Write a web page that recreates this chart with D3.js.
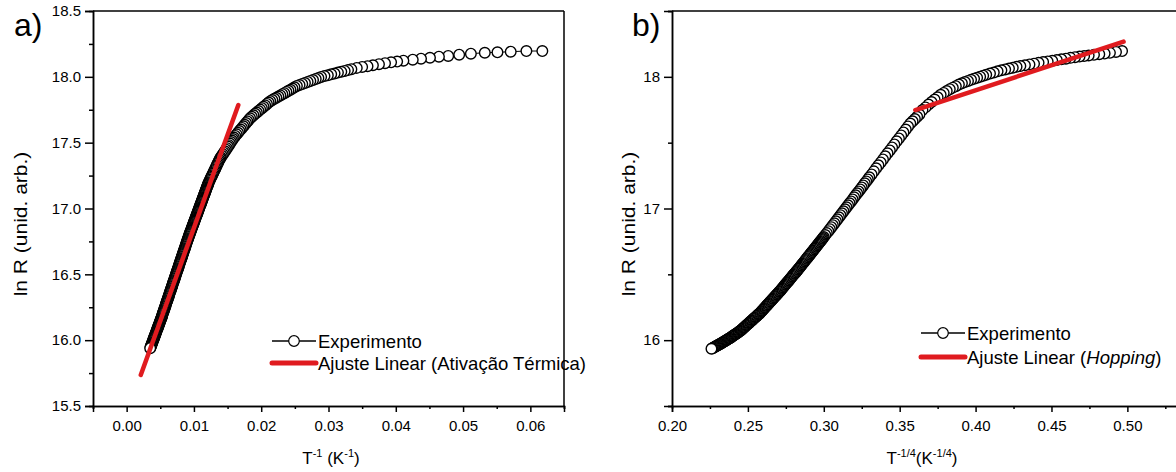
<!DOCTYPE html>
<html>
<head>
<meta charset="utf-8">
<script src="https://cdn.jsdelivr.net/npm/d3@7"></script>
<style>
  body { margin: 0; background: #fff; }
  svg { display: block; font-family: "Liberation Sans", Arial, sans-serif; }
  .axis path, .axis line { stroke: #000; stroke-width: 1.5; }
  .axis text { font-size: 15px; fill: #000; }
</style>
</head>
<body>
<svg id="chart" width="1176" height="472"></svg>
<script>
// panel a) : ln R vs T^-1
var invT = [
  0.0035,0.00355,0.0036,0.00365,0.0037,0.00375,0.0038,0.00385,0.0039,0.00395,0.0040,0.00405,0.0041,0.00415,0.0042,0.00425,
  0.0043,0.00435,0.0044,0.00445,0.0045,0.00455,0.0046,0.00465,0.0047,0.00475,0.0048,0.00485,0.0049,0.00495,0.0050,0.00505,
  0.0051,0.00515,0.0052,0.00525,0.0053,0.00535,0.0054,0.00545,0.0055,0.00555,0.0056,0.00565,0.0057,0.00575,0.0058,0.00585,
  0.0059,0.00595,0.0060,0.00605,0.0061,0.00615,0.0062,0.00625,0.0063,0.00635,0.0064,0.00645,0.0065,0.00655,0.0066,0.00665,
  0.0067,0.00675,0.0068,0.00685,0.0069,0.00695,0.0070,0.00705,0.0071,0.00715,0.0072,0.00725,0.0073,0.00735,0.0074,0.00745,
  0.0075,0.00755,0.0076,0.00765,0.0077,0.00775,0.0078,0.00785,0.0079,0.00795,0.0080,0.00805,0.0081,0.00815,0.0082,0.00825,
  0.0083,0.00835,0.0084,0.00845,0.0085,0.00855,0.0086,0.00865,0.0087,0.00875,0.0088,0.00885,0.0089,0.00895,0.0090,0.00905,
  0.0091,0.00915,0.0092,0.00925,0.0093,0.00935,0.0094,0.00945,0.0095,0.00955,0.0096,0.00965,0.0097,0.00975,0.0098,0.00985,
  0.0099,0.00995,0.0100,0.01005,0.0101,0.01015,0.0102,0.01025,0.0103,0.01035,0.0104,0.01045,0.0105,0.01055,0.0106,0.01065,
  0.0107,0.01075,0.0108,0.01085,0.0109,0.01095,0.0110,0.01105,0.0111,0.01115,0.0112,0.01125,0.0113,0.01135,0.0114,0.01145,
  0.0115,0.01155,0.0116,0.01165,0.0117,0.01175,0.0118,0.01185,0.0119,0.01195,0.0120,0.01205,0.0121,0.01215,0.0122,
  0.0123,0.0124,0.0125,0.0126,0.0127,0.0128,0.0129,0.0130,0.0131,0.0132,0.0133,0.0134,0.0135,0.0136,0.0137,0.0138,0.0139,0.0140,
  0.01415,0.0143,0.01445,0.0146,0.01475,0.0149,0.01505,0.0152,0.01535,0.0155,0.01565,0.0158,0.01595,
  0.01615,0.01635,0.01655,0.01675,0.01695,0.01715,0.01735,0.01755,0.01775,0.01795,0.01815,0.01835,
  0.0186,0.01885,0.0191,0.01935,0.0196,0.01985,0.0201,0.02035,0.0206,0.02085,0.0211,0.02135,
  0.02165,0.02195,0.02225,0.02255,0.02285,0.02315,0.02345,0.02375,0.02405,0.02435,0.02465,0.02495,
  0.0253,0.0257,0.0261,0.0265,0.0269,0.0273,0.0277,0.0281,0.0285,0.0289,
  0.0294,0.0299,0.0304,0.0309,0.0314,0.0319,0.0324,0.0329,0.0334,
  0.0342,0.0350,0.0358,0.0366,0.0375,0.0384,0.0393,0.0402,
  0.04113,0.04252,0.04375,0.04508,0.04641,0.04779,0.04942,0.05116,0.05323,0.05511,0.05708,0.05941,0.06178
];
var lnRa = [
  15.939,15.946,15.953,15.960,15.967,15.973,15.980,15.987,15.994,16.001,16.008,16.015,16.022,16.029,16.036,16.042,
  16.049,16.056,16.063,16.070,16.077,16.084,16.091,16.098,16.105,16.111,16.118,16.125,16.132,16.139,16.146,16.153,
  16.160,16.167,16.175,16.182,16.190,16.198,16.206,16.213,16.221,16.228,16.236,16.243,16.251,16.258,16.266,16.274,
  16.282,16.289,16.297,16.304,16.312,16.319,16.327,16.334,16.342,16.350,16.358,16.365,16.373,16.380,16.388,16.395,
  16.403,16.410,16.418,16.426,16.434,16.441,16.449,16.456,16.464,16.471,16.479,16.486,16.494,16.502,16.510,16.517,
  16.525,16.532,16.540,16.547,16.555,16.562,16.570,16.578,16.586,16.593,16.601,16.608,16.616,16.623,16.631,16.638,
  16.646,16.654,16.662,16.669,16.677,16.684,16.692,16.699,16.707,16.714,16.722,16.730,16.738,16.745,16.753,16.760,
  16.768,16.775,16.783,16.790,16.798,16.805,16.812,16.819,16.826,16.832,16.839,16.846,16.853,16.860,16.867,16.874,
  16.881,16.888,16.895,16.901,16.908,16.915,16.922,16.929,16.936,16.943,16.950,16.957,16.964,16.970,16.977,16.984,
  16.991,16.998,17.005,17.012,17.019,17.026,17.033,17.039,17.046,17.053,17.060,17.067,17.074,17.081,17.088,17.095,
  17.102,17.108,17.115,17.122,17.129,17.136,17.143,17.150,17.157,17.164,17.171,17.177,17.184,17.191,17.198,
  17.209,17.220,17.231,17.241,17.252,17.263,17.274,17.284,17.295,17.306,17.317,17.328,17.339,17.349,17.360,17.371,17.382,17.390,
  17.401,17.412,17.424,17.435,17.447,17.458,17.470,17.481,17.493,17.505,17.516,17.528,17.539,
  17.551,17.563,17.575,17.588,17.600,17.612,17.624,17.636,17.649,17.661,17.673,17.685,
  17.697,17.708,17.719,17.729,17.740,17.751,17.762,17.772,17.783,17.794,17.805,17.815,
  17.824,17.833,17.841,17.850,17.859,17.868,17.876,17.885,17.894,17.902,17.911,17.920,
  17.931,17.938,17.946,17.953,17.961,17.969,17.976,17.984,17.991,17.999,
  18.006,18.012,18.019,18.025,18.032,18.038,18.045,18.051,18.058,
  18.068,18.075,18.081,18.088,18.096,18.104,18.110,18.116,
  18.123,18.130,18.138,18.145,18.153,18.159,18.168,18.176,18.183,18.186,18.191,18.196,18.196
];

// panel b) : ln R vs T^-1/4
var t14 = [
  0.2260,0.2265,0.2270,0.2275,0.2280,0.2285,0.2290,0.2295,0.2300,0.2305,0.2310,0.2315,0.2320,0.2325,0.2330,0.2335,
  0.2340,0.2345,0.2350,0.2355,0.2360,0.2365,0.2370,0.2375,0.2380,0.2385,0.2390,0.2395,0.2400,0.2405,0.2410,0.2415,
  0.2420,0.2425,0.2430,0.2435,0.2440,0.2445,0.2450,0.2455,0.2460,0.2465,0.2470,0.2475,0.2480,0.2485,0.2490,0.2495,
  0.2500,0.2505,0.2510,0.2515,0.2520,0.2525,0.2530,0.2535,0.2540,0.2545,0.2550,0.2555,0.2560,0.2565,0.2570,0.2575,
  0.2580,0.2585,0.2590,0.2595,0.2600,0.2605,0.2610,0.2615,0.2620,0.2625,0.2630,0.2635,0.2640,0.2645,0.2650,0.2655,
  0.2660,0.2665,0.2670,0.2675,0.2680,0.2685,0.2690,0.2695,0.2700,0.2705,0.2710,0.2715,0.2720,0.2725,0.2730,0.2735,
  0.2740,0.2745,0.2750,0.2755,0.2760,0.2765,0.2770,0.2775,0.2780,0.2785,0.2790,0.2795,0.2800,0.2805,0.2810,0.2815,
  0.2820,0.2825,0.2830,0.2835,0.2840,0.2845,0.2850,0.2855,0.2860,0.2865,0.2870,0.2875,0.2880,0.2885,0.2890,0.2895,
  0.2900,0.2905,0.2910,0.2915,0.2920,0.2925,0.2930,0.2935,0.2940,0.2945,0.2950,0.2955,0.2960,0.2965,0.2970,0.2975,
  0.2980,0.2985,0.2990,0.2995,0.3000,
  0.301,0.302,0.303,0.304,0.305,0.306,0.307,0.308,0.309,0.310,0.311,0.312,0.313,0.314,0.315,0.316,0.317,0.318,0.319,0.320,
  0.321,0.322,0.323,0.324,0.325,0.326,0.327,0.328,0.329,0.330,
  0.3315,0.333,0.3345,0.336,0.3375,0.339,0.3405,0.342,0.3435,0.345,0.3465,0.348,0.3495,0.351,0.3525,0.354,
  0.3555,0.357,0.3585,0.360,0.3615,0.363,
  0.365,0.367,0.369,0.371,0.373,0.375,0.377,0.379,0.381,0.383,0.385,0.387,0.389,0.391,0.393,0.395,0.397,0.399,0.401,
  0.403,0.405,0.407,
  0.4095,0.412,0.4145,0.417,0.4195,0.422,0.4245,0.427,0.4295,
  0.4325,0.4355,0.4385,0.4415,0.4445,0.4475,0.4505,0.4535,0.4565,0.4595,0.4625,0.4655,0.4685,0.4715,0.4745,
  0.478,0.4815,0.485,0.4885,0.4925,0.4965
];
var lnRb = [
  15.935,15.938,15.941,15.945,15.948,15.951,15.954,15.958,15.961,15.964,15.967,15.970,15.973,15.977,15.980,15.984,
  15.987,15.991,15.994,15.998,16.001,16.005,16.008,16.012,16.015,16.019,16.023,16.027,16.031,16.035,16.039,16.043,
  16.047,16.051,16.055,16.059,16.063,16.067,16.071,16.076,16.081,16.087,16.092,16.097,16.102,16.108,16.113,16.118,
  16.123,16.128,16.133,16.139,16.144,16.149,16.154,16.160,16.165,16.170,16.175,16.180,16.185,16.191,16.196,16.201,
  16.206,16.213,16.219,16.226,16.232,16.238,16.244,16.251,16.257,16.264,16.270,16.276,16.282,16.289,16.295,16.302,
  16.308,16.315,16.321,16.327,16.333,16.340,16.346,16.353,16.359,16.365,16.371,16.378,16.385,16.392,16.399,16.406,
  16.413,16.420,16.427,16.434,16.440,16.447,16.454,16.461,16.468,16.475,16.482,16.489,16.496,16.503,16.509,16.516,
  16.523,16.530,16.537,16.544,16.551,16.558,16.565,16.573,16.580,16.587,16.594,16.602,16.609,16.616,16.623,16.631,
  16.638,16.645,16.652,16.660,16.667,16.674,16.681,16.689,16.696,16.703,16.710,16.718,16.725,16.732,16.739,16.747,
  16.754,16.761,16.768,16.776,16.783,
  16.798,16.813,16.828,16.843,16.858,16.873,16.888,16.903,16.918,16.933,16.949,16.964,16.979,16.994,17.009,17.024,17.039,
  17.054,17.069,17.085,17.100,17.115,17.130,17.145,17.160,17.175,17.191,17.206,17.221,17.237,
  17.259,17.282,17.305,17.328,17.350,17.373,17.396,17.419,17.441,17.464,17.487,17.510,17.532,17.555,17.578,17.600,
  17.623,17.645,17.662,17.679,17.697,17.714,
  17.748,17.768,17.789,17.808,17.827,17.845,17.864,17.878,17.892,17.906,17.918,17.929,17.941,17.951,17.960,17.969,17.978,
  17.986,17.993,18.001,18.009,18.016,
  18.025,18.033,18.042,18.050,18.056,18.063,18.069,18.076,18.082,
  18.088,18.094,18.100,18.107,18.112,18.117,18.122,18.128,18.133,18.138,18.144,18.149,18.154,18.158,18.162,
  18.167,18.172,18.177,18.182,18.189,18.196
];

// linear fits (end points)
var fitAx = [0.0021, 0.0166];
var fitAy = [15.736, 17.786];
var fitBx = [0.3603, 0.4975];
var fitBy = [17.748, 18.267];

// ticks
var ticksAx = [0, 0.01, 0.02, 0.03, 0.04, 0.05, 0.06];
var minorAx = [-0.005, 0.005, 0.015, 0.025, 0.035, 0.045, 0.055, 0.065];
var ticksAy = [15.5, 16.0, 16.5, 17.0, 17.5, 18.0, 18.5];
var minorAy = [15.75, 16.25, 16.75, 17.25, 17.75, 18.25];
var ticksBx = [0.20, 0.25, 0.30, 0.35, 0.40, 0.45, 0.50];
var minorBx = [0.225, 0.275, 0.325, 0.375, 0.425, 0.475, 0.525];
var ticksBy = [16, 17, 18];
var minorBy = [15.5, 16.5, 17.5, 18.5];

var legendA = ["Experimento", "Ajuste Linear (Ativação Térmica)"];
var legendB = ["Experimento", "Ajuste Linear (", "Hopping", ")"];

var svg = d3.select("#chart");
var red = "#e01b1f";

/**
 * Draws one panel.
 */
var drawPanel = function(opt) {
  var x = d3.scaleLinear().domain(opt.xDomain).range(opt.xRange);
  var y = d3.scaleLinear().domain([15.5, 18.5]).range([406, 11]);
  var g = svg.append("g");

  // frame (top and right)
  g.append("line").attr("x1", opt.xRange[0]).attr("x2", opt.xRange[1])
    .attr("y1", 11).attr("y2", 11).attr("stroke", "#000").attr("stroke-width", 1.5);
  g.append("line").attr("x1", opt.xRange[1]).attr("x2", opt.xRange[1])
    .attr("y1", 11).attr("y2", 406).attr("stroke", "#000").attr("stroke-width", 1.5);

  // axes
  g.append("g").attr("class", "axis").attr("transform", "translate(0,406)")
    .call(d3.axisBottom(x).tickValues(opt.minorX).tickSize(3).tickFormat(""));
  g.append("g").attr("class", "axis").attr("transform", "translate(0,406)")
    .call(d3.axisBottom(x).tickValues(opt.ticksX).tickSize(6).tickPadding(8).tickFormat(d3.format(".2f")));
  g.append("g").attr("class", "axis").attr("transform", "translate(" + opt.xRange[0] + ",0)")
    .call(d3.axisLeft(y).tickValues(opt.minorY).tickSize(4).tickFormat(""));
  g.append("g").attr("class", "axis").attr("transform", "translate(" + opt.xRange[0] + ",0)")
    .call(d3.axisLeft(y).tickValues(opt.ticksY).tickSize(8).tickPadding(4).tickFormat(opt.yFormat));

  // data: line + open circles (drawn from low T to high T)
  var pts = opt.xs.map(function(d, i) { return [d, opt.ys[i]]; });
  var plot = g.append("g");
  plot.append("path")
    .datum(pts)
    .attr("d", d3.line().x(function(d) { return x(d[0]); }).y(function(d) { return y(d[1]); }))
    .attr("fill", "none").attr("stroke", "#000").attr("stroke-width", 1);
  plot.selectAll("circle")
    .data(pts.slice().reverse())
    .enter().append("circle")
      .attr("cx", function(d) { return x(d[0]); })
      .attr("cy", function(d) { return y(d[1]); })
      .attr("r", 5.3)
      .attr("fill", "#fff")
      .attr("stroke", "#000")
      .attr("stroke-width", 1.4);

  // linear fit
  g.append("line")
    .attr("x1", x(opt.fitX[0])).attr("y1", y(opt.fitY[0]))
    .attr("x2", x(opt.fitX[1])).attr("y2", y(opt.fitY[1]))
    .attr("stroke", red).attr("stroke-width", 4.5).attr("stroke-linecap", "round");

  // axis titles
  svg.append("text")
    .attr("transform", "translate(" + opt.yTitleX + ",224) scale(0.9,1) rotate(-90)")
    .attr("text-anchor", "middle").style("font-size", "21px")
    .text("ln R (unid. arb.)");
  var xt = svg.append("text")
    .attr("x", opt.xTitleX).attr("y", 464)
    .attr("text-anchor", "middle").style("font-size", "17px");
  xt.append("tspan").text("T");
  xt.append("tspan").attr("dy", -7).style("font-size", "11px").text(opt.expo);
  xt.append("tspan").attr("dy", 7).text(opt.gap + "(K");
  xt.append("tspan").attr("dy", -7).style("font-size", "11px").text(opt.expo);
  xt.append("tspan").attr("dy", 7).text(")");

  // panel label
  svg.append("text").attr("x", opt.labelX).attr("y", 36)
    .style("font-size", "32px").text(opt.label);

  // legend
  var lx = opt.legX, ly = opt.legY;
  svg.append("line").attr("x1", lx).attr("x2", lx + 44).attr("y1", ly).attr("y2", ly)
    .attr("stroke", "#000").attr("stroke-width", 1.5);
  svg.append("circle").attr("cx", lx + 22).attr("cy", ly).attr("r", 5.3)
    .attr("fill", "#fff").attr("stroke", "#000").attr("stroke-width", 1.2);
  svg.append("line").attr("x1", lx).attr("x2", lx + 44).attr("y1", ly + opt.legGap).attr("y2", ly + opt.legGap)
    .attr("stroke", red).attr("stroke-width", 5).attr("stroke-linecap", "round");
  svg.append("text").attr("x", lx + 46).attr("y", ly + 6.5)
    .style("font-size", "18.5px").text(opt.legend[0]);
  var t2 = svg.append("text").attr("x", lx + 46).attr("y", ly + opt.legGap + 6.5)
    .style("font-size", "18.5px");
  t2.append("tspan").text(opt.legend[1]);
  if (opt.legend.length > 2) {
    t2.append("tspan").style("font-style", "italic").text(opt.legend[2]);
    t2.append("tspan").text(opt.legend[3]);
  }
};

drawPanel({
  xDomain: [-0.005, 0.065], xRange: [93, 564],
  ticksX: ticksAx, minorX: minorAx, ticksY: ticksAy, minorY: minorAy,
  yFormat: d3.format(".1f"),
  xs: invT, ys: lnRa, fitX: fitAx, fitY: fitAy,
  yTitleX: 27, xTitleX: 331, expo: "-1", gap: " ",
  label: "a)", labelX: 14,
  legX: 272, legY: 341, legGap: 22, legend: legendA
});

drawPanel({
  xDomain: [0.20, 0.535], xRange: [672, 1180.5],
  ticksX: ticksBx, minorX: minorBx, ticksY: ticksBy, minorY: minorBy,
  yFormat: d3.format("d"),
  xs: t14, ys: lnRb, fitX: fitBx, fitY: fitBy,
  yTitleX: 635, xTitleX: 922, expo: "-1/4", gap: "",
  label: "b)", labelX: 632,
  legX: 921, legY: 333, legGap: 24, legend: legendB
});
</script>
</body>
</html>
